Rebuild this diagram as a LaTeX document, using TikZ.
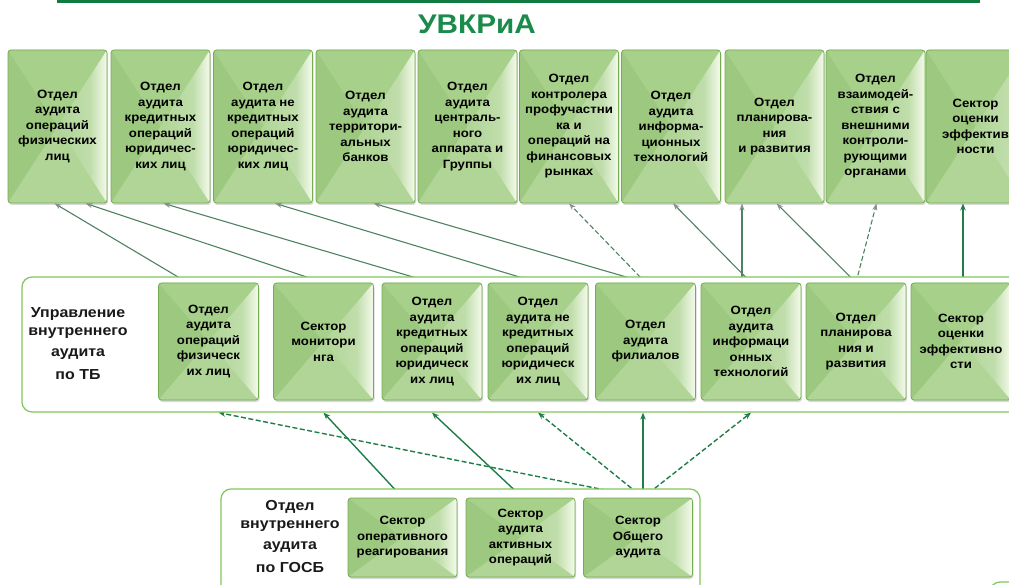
\documentclass[tikz,border=0pt]{standalone}
\usepackage{fontspec}
\setmainfont{Liberation Sans}[FakeStretch=1.1]
\usetikzlibrary{arrows.meta,shadows}

\definecolor{unitface}{HTML}{A9D18E}
\definecolor{unitdark}{HTML}{9DC880}
\definecolor{unittop}{HTML}{A7D08B}
\definecolor{unitlow}{HTML}{B0D596}
\definecolor{unitlight}{HTML}{F5FAEC}
\definecolor{unitline}{HTML}{74AC52}
\definecolor{framegreen}{HTML}{80C65C}
\definecolor{headgreen}{HTML}{117A40}
\definecolor{titlegreen}{HTML}{1B8B4B}
\definecolor{upgreen}{HTML}{4E8262}
\definecolor{upgray}{HTML}{8C918D}
\definecolor{lowgreen}{HTML}{1E7D49}

\pgfdeclarehorizontalshading{bevelright}{100bp}{color(0bp)=(unitlow); color(25bp)=(unitlow); color(58bp)=(unitlow!80!white); color(75bp)=(unitlight); color(100bp)=(unitlight)}

\pgfdeclarelayer{bg}
\pgfsetlayers{bg,main}

\tikzset{
  unit/.style={draw=unitline, line width=.8pt, fill=unitface, rounded corners=3pt,
    align=center, inner sep=0pt, text=black,
    font=\bfseries\fontsize{12}{15.5}\selectfont,
    drop shadow={shadow xshift=1pt, shadow yshift=-2pt, opacity=.3},
    path picture={
      \fill[unitdark, sharp corners] (path picture bounding box.north west) -- (path picture bounding box.center) -- (path picture bounding box.south west) -- cycle;
      \fill[unittop, sharp corners] (path picture bounding box.north west) -- (path picture bounding box.center) -- (path picture bounding box.north east) -- cycle;
      \fill[unitlow, sharp corners] (path picture bounding box.south west) -- (path picture bounding box.center) -- (path picture bounding box.south east) -- cycle;
      \shade[shading=bevelright, sharp corners] (path picture bounding box.north east) -- (path picture bounding box.center) -- (path picture bounding box.south east) -- cycle;
    }},
  topunit/.style={unit, minimum width=99pt, minimum height=153pt},
  midunit/.style={unit, minimum width=100pt, minimum height=117pt},
  lowunit/.style={unit, minimum width=109pt, minimum height=79pt},
  frame/.style={draw=framegreen, line width=1.2pt, fill=white, rounded corners=10pt},
  framelabel/.style={align=center, inner sep=0pt, text=black!90,
    font=\bfseries\fontsize{14.5}{18}\selectfont},
  upline/.style={draw=upgreen, line width=1.1pt, -{Stealth[length=7pt, width=5pt, color=upgray]}},
  lowline/.style={draw=lowgreen, line width=1.4pt, -{Stealth[length=7pt, width=5.5pt]}},
  dashline/.style={dash pattern=on 5pt off 2.5pt}
}

\begin{document}
\begin{tikzpicture}[x=1pt, y=-1pt]
  \useasboundingbox (0,0) rectangle (1009,585);
  \clip (0,0) rectangle (1009,585);

  % header
  \draw[headgreen, line width=2.5pt] (57,1.5) -- (980,1.5);
  \node[text=titlegreen, font=\bfseries\fontsize{27}{30}\selectfont] (hd) at (477,24) {УВКРиА};

  % UVKRiA
  \node[topunit] (t1) at (57.5,126.5) {Отдел\\аудита\\операций\\физических\\лиц};
  \node[topunit] (t2) at (160.5,126.5) {Отдел\\аудита\\кредитных\\операций\\юридичес-\\ких лиц};
  \node[topunit] (t3) at (263,126.5) {Отдел\\аудита не\\кредитных\\операций\\юридичес-\\ких лиц};
  \node[topunit] (t4) at (365.5,126.5) {Отдел\\аудита\\территори-\\альных\\банков};
  \node[topunit] (t5) at (467.5,126.5) {Отдел\\аудита\\централь-\\ного\\аппарата и\\Группы};
  \node[topunit] (t6) at (569,126.5) {Отдел\\контролера\\профучастни\\ка и\\операций на\\финансовых\\рынках};
  \node[topunit] (t7) at (671,126.5) {Отдел\\аудита\\информа-\\ционных\\технологий};
  \node[topunit] (t8) at (774.5,126.5) {Отдел\\планирова-\\ния\\и развития};
  \node[topunit] (t9) at (875.5,126.5) {Отдел\\взаимодей-\\ствия с\\внешними\\контроли-\\рующими\\органами};
  \node[topunit] (t10) at (975.5,126.5) {Сектор\\оценки\\эффектив\\ности};

  % TB
  \node[frame, minimum width=1008pt, minimum height=135pt] (tb) at (526,344.5) {};
  \node[framelabel] (tbl) at (78,344) {Управление\\внутреннего\\[3pt]аудита\\[5pt]по ТБ};
  \node[midunit] (m1) at (208.5,341.5) {Отдел\\аудита\\операций\\физическ\\их лиц};
  \node[midunit] (m2) at (323.5,341.5) {Сектор\\монитори\\нга};
  \node[midunit] (m3) at (432,341.5) {Отдел\\аудита\\кредитных\\операций\\юридическ\\их лиц};
  \node[midunit] (m4) at (538,341.5) {Отдел\\аудита не\\кредитных\\операций\\юридическ\\их лиц};
  \node[midunit] (m5) at (645.5,341.5) {Отдел\\аудита\\филиалов};
  \node[midunit] (m6) at (751,341.5) {Отдел\\аудита\\информаци\\онных\\технологий};
  \node[midunit] (m7) at (856,341.5) {Отдел\\планирова\\ния и\\развития};
  \node[midunit] (m8) at (961,341.5) {Сектор\\оценки\\эффективно\\сти};

  % GOSB
  \node[frame, minimum width=479pt, minimum height=111pt] (gosb) at (460.5,544.5) {};
  \node[framelabel] (gosbl) at (290,536.5) {Отдел\\внутреннего\\[3pt]аудита\\[5pt]по ГОСБ};
  \node[lowunit] (b1) at (402.5,537.5) {Сектор\\оперативного\\реагирования};
  \node[lowunit] (b2) at (520.5,537.5) {Сектор\\аудита\\активных\\операций};
  \node[lowunit] (b3) at (638,537.5) {Сектор\\Общего\\аудита};

  \draw[frame] (990,582) rectangle (1060,640);

  \begin{pgfonlayer}{bg}
    \coordinate (m6up) at ([xshift=-9pt]m6.north);
    \coordinate (m8up) at ([xshift=2pt]m8.north);
    \coordinate (b3up) at ([xshift=5pt]b3.north);
    \path (m1.south |- tb.south) ++(10,0) coordinate (m1dn);

    \draw[upline] ([xshift=-21pt]m1.north) -- ([xshift=-3pt]t1.south);
    \draw[upline] (m2.north) -- ([xshift=28pt]t1.south);
    \draw[upline] (m3.north) -- ([xshift=3pt]t2.south);
    \draw[upline] (m4.north) -- ([xshift=12pt]t3.south);
    \draw[upline] (m5.north) -- ([xshift=8pt]t4.south);
    \draw[upline, dashline] (m5.north) -- (t6.south);
    \draw[upline] (m6.north) -- ([xshift=2pt]t7.south);
    \draw[upline] (m6up) -- (m6up |- t8.south);
    \draw[upline] (m7.north) -- ([xshift=2pt]t8.south);
    \draw[upline, dashline] (m7.north) -- ([xshift=1pt]t9.south);
    \draw[lowline, line width=1.2pt] (m8up) -- (m8up |- t10.south);

    \draw[lowline] (b1.north) -- (m2.south |- tb.south);
    \draw[lowline] ([xshift=2pt]b2.north) -- (m3.south |- tb.south);
    \draw[lowline, dashline] (b3up) -- (m1dn);
    \draw[lowline, dashline] (b3up) -- (m4.south |- tb.south);
    \draw[lowline] (b3up) -- (b3up |- tb.south);
    \draw[lowline, dashline] (b3up) -- (m6.south |- tb.south);
  \end{pgfonlayer}
\end{tikzpicture}
\end{document}
